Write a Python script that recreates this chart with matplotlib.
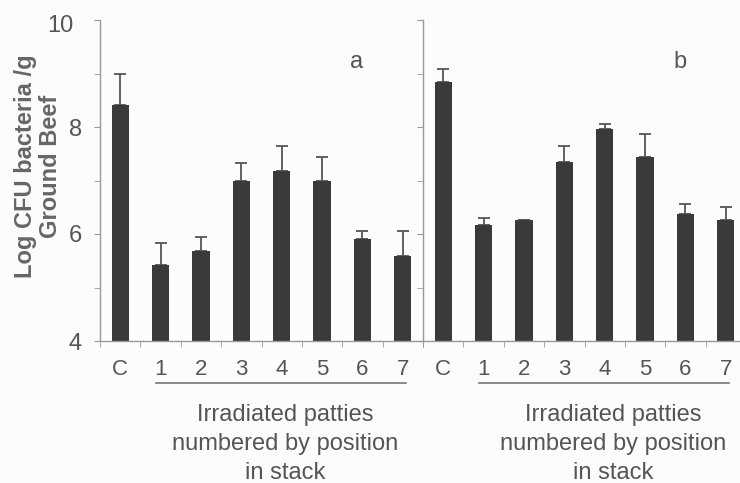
import matplotlib.pyplot as plt
from matplotlib.transforms import blended_transform_factory, ScaledTranslation

# categories: control + patty position in stack
cats = ['C', '1', '2', '3', '4', '5', '6', '7']

# panel a
vals_a = [8.42, 5.42, 5.69, 6.99, 7.18, 7.00, 5.91, 5.59]
err_a = [0.57, 0.41, 0.25, 0.33, 0.47, 0.44, 0.15, 0.47]

# panel b
vals_b = [8.85, 6.16, 6.27, 7.35, 7.96, 7.43, 6.37, 6.26]
err_b = [0.23, 0.13, 0.00, 0.30, 0.10, 0.43, 0.20, 0.25]

plt.rcParams['font.family'] = ['Liberation Sans', 'DejaVu Sans']

W, H = 740, 483
fig = plt.figure(figsize=(W / 100, H / 100), dpi=100)
fig.patch.set_facecolor('#fcfcfc')

bar_col = '#3a3a3a'
txt_col = '#555555'
ax_col = '#9a9a9a'

y_top, y_bot = 20, 341
axh = (y_bot - y_top) / H
ax_a = fig.add_axes([100 / W, 1 - y_bot / H, 323 / W, axh])
ax_b = fig.add_axes([423 / W, 1 - y_bot / H, 323 / W, axh])

for ax, vals, err, tag in [(ax_a, vals_a, err_a, 'a'), (ax_b, vals_b, err_b, 'b')]:
    x = list(range(len(cats)))
    ax.bar(x, vals, width=0.43, color=bar_col, zorder=2)
    ax.errorbar(x, vals, yerr=[[0] * len(err), err], fmt='none',
                ecolor='#555555', elinewidth=1.3, capsize=4.5, capthick=1.3, zorder=1)
    ax.set_xlim(-0.5, 7.5)
    ax.set_ylim(4, 10)
    ax.set_facecolor('none')
    for s in ['top', 'right']:
        ax.spines[s].set_visible(False)
    for s in ['left', 'bottom']:
        ax.spines[s].set_color(ax_col)
        ax.spines[s].set_linewidth(1)
    ax.set_xticks(x)
    ax.set_xticklabels(cats)
    ax.set_xticks([i - 0.5 for i in range(9)], minor=True)
    ax.tick_params(axis='x', which='major', length=0, pad=13, labelsize=16, labelcolor=txt_col)
    ax.tick_params(axis='x', which='minor', length=4, direction='out', color=ax_col)
    ax.set_yticks([4, 6, 8, 10])
    ax.set_yticks([5, 7, 9], minor=True)
    ax.tick_params(axis='y', which='both', length=4, direction='out', color=ax_col,
                   labelsize=17, labelcolor=txt_col, pad=9)
    ax.text(0.795, 0.87, tag, transform=ax.transAxes, fontsize=17, color=txt_col,
            ha='center', va='center')

    # underline under the irradiated patties
    tr = blended_transform_factory(ax.transData, ax.transAxes)
    ax.plot([0.88, 7.08], [-0.131, -0.131], transform=tr, color='#6a6a6a', lw=1.1, clip_on=False)

ax_b.tick_params(axis='y', which='both', labelleft=False)

# the "10" label sits a little further left in the original
lab10 = ax_a.get_yticklabels()[-1]
lab10.set_transform(lab10.get_transform() + ScaledTranslation(-8 / 100, -3 / 100, fig.dpi_scale_trans))

lines = ['Irradiated patties', 'numbered by position', 'in stack']
for cx in [285, 613]:
    for i, line in enumerate(lines):
        fig.text(cx / W, 1 - (415 + 29 * i) / H, line, ha='center', va='center',
                 fontsize=17, color=txt_col)

fig.text(38 / W, 1 - 166 / H, 'Log CFU bacteria /g\nGround Beef', rotation=90,
         ha='center', va='center', multialignment='center', fontsize=17,
         fontweight='bold', color='#666666', linespacing=1.15)

fig.savefig('out.png', dpi=100, facecolor=fig.get_facecolor())
